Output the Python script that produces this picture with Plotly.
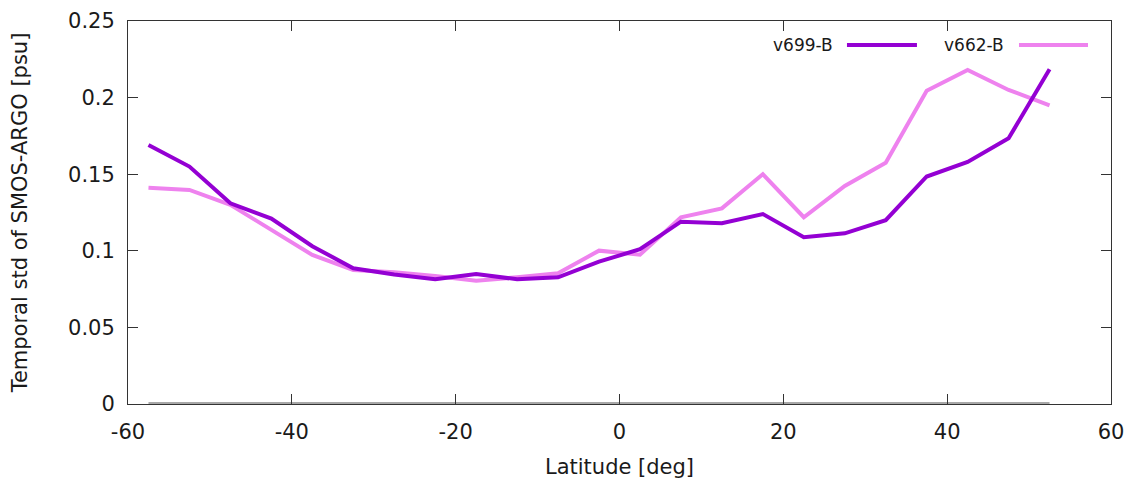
import plotly.graph_objects as go

latitude = [-57.5, -52.5, -47.5, -42.5, -37.5, -32.5, -27.5, -22.5, -17.5, -12.5,
            -7.5, -2.5, 2.5, 7.5, 12.5, 17.5, 22.5, 27.5, 32.5, 37.5, 42.5, 47.5, 52.5]
v699_b = [0.169, 0.155, 0.131, 0.121, 0.103, 0.0886, 0.0845, 0.0814, 0.0849, 0.0814,
          0.0827, 0.0929, 0.101, 0.119, 0.118, 0.124, 0.1088, 0.1114, 0.120, 0.1485,
          0.158, 0.1734, 0.2185]
v662_b = [0.1412, 0.1397, 0.130, 0.1136, 0.0973, 0.0875, 0.086, 0.0836, 0.0805, 0.0827,
          0.0853, 0.1001, 0.0975, 0.1219, 0.1277, 0.150, 0.1219, 0.1423, 0.1575, 0.2045,
          0.218, 0.205, 0.195]
zero_ref = [0.0] * len(latitude)

x_ticks = [-60, -40, -20, 0, 20, 40, 60]
y_ticks = [0, 0.05, 0.1, 0.15, 0.2, 0.25]
y_tick_labels = ["0", "0.05", "0.1", "0.15", "0.2", "0.25"]

C_DARK = "#9400D3"
C_PINK = "#EE82EE"
FONT = "DejaVu Sans"
TXT = "#1a1a1a"

fig = go.Figure()
fig.add_trace(go.Scatter(x=latitude, y=zero_ref, mode="lines",
                         line=dict(color="#A8A8A8", width=4), showlegend=False))
fig.add_trace(go.Scatter(x=latitude, y=v662_b, mode="lines", name="v662-B",
                         line=dict(color=C_PINK, width=4), showlegend=False))
fig.add_trace(go.Scatter(x=latitude, y=v699_b, mode="lines", name="v699-B",
                         line=dict(color=C_DARK, width=4), showlegend=False))

axis_common = dict(showgrid=False, zeroline=False, showline=True, linecolor="#333333",
                   linewidth=1, mirror="allticks", ticks="inside", ticklen=10,
                   tickcolor="#333333", tickfont=dict(family=FONT, size=21, color=TXT),
                   automargin=False)

fig.update_xaxes(range=[-60, 60], tickvals=x_ticks, ticktext=[str(v) for v in x_ticks],
                 title=dict(text="Latitude [deg]", font=dict(family=FONT, size=21, color=TXT),
                            standoff=19),
                 ticklabelstandoff=9, **axis_common)
fig.update_yaxes(range=[0, 0.25], tickvals=y_ticks, ticktext=y_tick_labels,
                 title=dict(text="Temporal std of SMOS-ARGO [psu]",
                            font=dict(family=FONT, size=21, color=TXT), standoff=34),
                 ticklabelstandoff=8, **axis_common)

# gnuplot-style key: text then line sample
legend_items = [("v699-B", C_DARK, 0.7192, 0.7314, 0.8026),
                ("v662-B", C_PINK, 0.8932, 0.9064, 0.9766)]
for label, col, tx, x0, x1 in legend_items:
    fig.add_annotation(x=tx, y=0.9373, xref="paper", yref="paper", text=label,
                       showarrow=False, xanchor="right", yanchor="middle",
                       font=dict(family=FONT, size=17, color=TXT))
    fig.add_shape(type="line", xref="paper", yref="paper", x0=x0, x1=x1, y0=0.9373, y1=0.9373,
                  line=dict(color=col, width=4))

fig.update_layout(width=1131, height=479, margin=dict(l=128, r=20, t=21, b=75),
                  plot_bgcolor="white", paper_bgcolor="white",
                  font=dict(family=FONT, size=21))

fig.write_html("out.html")
